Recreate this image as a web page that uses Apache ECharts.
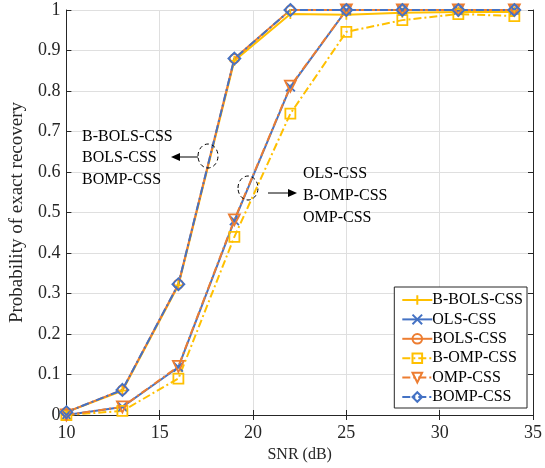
<!DOCTYPE html>
<html><head><meta charset="utf-8">
<script src="https://cdn.jsdelivr.net/npm/echarts@6/dist/echarts.min.js"></script>
<style>html,body{margin:0;padding:0;background:#fff}#c{width:545px;height:468px}</style>
</head><body><div id="c"></div>
<script>
const snr = [10, 13, 16, 19, 22, 25, 28, 31, 34];
const bBolsCss = [0.007, 0.06, 0.32, 0.875, 0.99, 0.988, 0.993, 0.995, 0.995];
const olsCss   = [0.0, 0.02, 0.118, 0.48, 0.81, 1.0, 1.0, 1.0, 1.0];
const bolsCss  = [0.007, 0.062, 0.323, 0.88, 1.0, 1.0, 1.0, 1.0, 1.0];
const bOmpCss  = [0.0, 0.01, 0.09, 0.44, 0.744, 0.946, 0.975, 0.99, 0.985];
const ompCss   = [0.0, 0.02, 0.12, 0.482, 0.812, 1.0, 1.0, 1.0, 1.0];
const bompCss  = [0.007, 0.062, 0.323, 0.88, 1.0, 1.0, 1.0, 1.0, 1.0];
const yTicks = [0, 0.1, 0.2, 0.3, 0.4, 0.5, 0.6, 0.7, 0.8, 0.9, 1];

const YEL = '#FFC000', BLU = '#4472C4', ORG = '#ED7D31';
const FONT = 'Liberation Serif';
const dashDot = [8, 3, 2, 3];
function pairs(ys){ return snr.map((x,i)=>[x, ys[i]]); }
function mk(name, ys, color, symbol, dashed, size){
  return {
    name, type:'line', data: pairs(ys), color,
    symbol, symbolSize: size || 9,
    lineStyle:{color, width:2, type: dashed ? dashDot : 'solid'},
    itemStyle:{color:'rgba(255,255,255,0)', borderColor:color, borderWidth:1.8},
    emphasis:{disabled:true}, animation:false
  };
}
const plusPath = 'path://M5,0 L5,10 M0,5 L10,5';
const crossPath = 'path://M0,0 L10,10 M10,0 L0,10';

const chart = echarts.init(document.getElementById('c'), null, {renderer:'canvas'});
const axisCommon = {
  axisLine:{show:true, onZero:false, lineStyle:{color:'#262626', width:1}},
  axisTick:{show:true, inside:true, length:5, lineStyle:{color:'#262626'}},
  axisLabel:{color:'#262626', fontFamily:FONT, fontSize:18},
  splitLine:{show:true, lineStyle:{color:'#dfdfdf', width:1}}
};
chart.setOption({
  animation:false,
  grid:{left:62, right:12, top:10, bottom:52, containLabel:false},
  xAxis:[Object.assign({type:'value', min:10, max:35, interval:5, name:'SNR (dB)', nameLocation:'middle', nameGap:32,
    nameTextStyle:{fontFamily:FONT, fontSize:16, color:'#262626'}}, axisCommon,
    {axisLabel:{color:'#262626', fontFamily:FONT, fontSize:18, margin:9}}),
    {type:'value', position:'top', min:10, max:35, interval:5, axisLine:{show:true, lineStyle:{color:'#262626'}},
     axisTick:{show:true, inside:true, length:5, lineStyle:{color:'#262626'}}, axisLabel:{show:false}, splitLine:{show:false}}],
  yAxis:[Object.assign({type:'value', min:0, max:1, interval:0.1, name:'Probability of exact recovery', nameLocation:'middle', nameGap:36,
    nameTextStyle:{fontFamily:FONT, fontSize:19, color:'#262626'}}, axisCommon,
    {axisLabel:{color:'#262626', fontFamily:FONT, fontSize:18, margin:6, formatter:v=>{const t=yTicks.find(k=>Math.abs(k-v)<1e-6); return t===undefined?'':String(t);}}}),
    {type:'value', position:'right', min:0, max:1, interval:0.1, axisLine:{show:true, lineStyle:{color:'#262626'}},
     axisTick:{show:true, inside:true, length:5, lineStyle:{color:'#262626'}}, axisLabel:{show:false}, splitLine:{show:false}}],
  legend:{
    orient:'vertical', right:18, bottom:60, itemGap:3.4, itemWidth:30, itemHeight:12,
    backgroundColor:'#fff', borderColor:'#262626', borderWidth:1, padding:[5,4,3,7],
    textStyle:{fontFamily:FONT, fontSize:16, color:'#000', lineHeight:16, padding:[0,0,0,-5]},
    data:['B-BOLS-CSS','OLS-CSS','BOLS-CSS','B-OMP-CSS','OMP-CSS','BOMP-CSS']
  },
  series:[
    mk('B-BOLS-CSS', bBolsCss, YEL, plusPath, false, 10),
    mk('OLS-CSS', olsCss, BLU, crossPath, false, 9),
    mk('BOLS-CSS', bolsCss, ORG, 'circle', false, 9),
    mk('B-OMP-CSS', bOmpCss, YEL, 'rect', true, 10),
    mk('OMP-CSS', ompCss, ORG, 'path://M0,0 L10,0 L5,9 Z', true, 11),
    mk('BOMP-CSS', bompCss, BLU, 'diamond', true, 12)
  ],
  graphic:[
    {type:'text', z:100, left:82, top:126, style:{text:'B-BOLS-CSS\nBOLS-CSS\nBOMP-CSS', font:'16px "Liberation Serif"', fill:'#000', lineHeight:21.5}},
    {type:'ellipse', z:100, shape:{cx:208, cy:156, rx:10, ry:12}, style:{fill:'none', stroke:'#000', lineWidth:1, lineDash:[4,3]}},
    {type:'line', z:100, shape:{x1:198, y1:157, x2:175, y2:157}, style:{stroke:'#000', lineWidth:1}},
    {type:'polygon', z:100, shape:{points:[[171,157],[180,153],[180,161]]}, style:{fill:'#000'}},
    {type:'text', z:100, left:303, top:163, style:{text:'OLS-CSS\nB-OMP-CSS\nOMP-CSS', font:'16px "Liberation Serif"', fill:'#000', lineHeight:22}},
    {type:'ellipse', z:100, shape:{cx:248, cy:188, rx:10, ry:12}, style:{fill:'none', stroke:'#000', lineWidth:1, lineDash:[4,3]}},
    {type:'line', z:100, shape:{x1:268, y1:193, x2:292, y2:193}, style:{stroke:'#000', lineWidth:1}},
    {type:'polygon', z:100, shape:{points:[[297,193],[288,189],[288,197]]}, style:{fill:'#000'}}
  ]
});
</script></body></html>
